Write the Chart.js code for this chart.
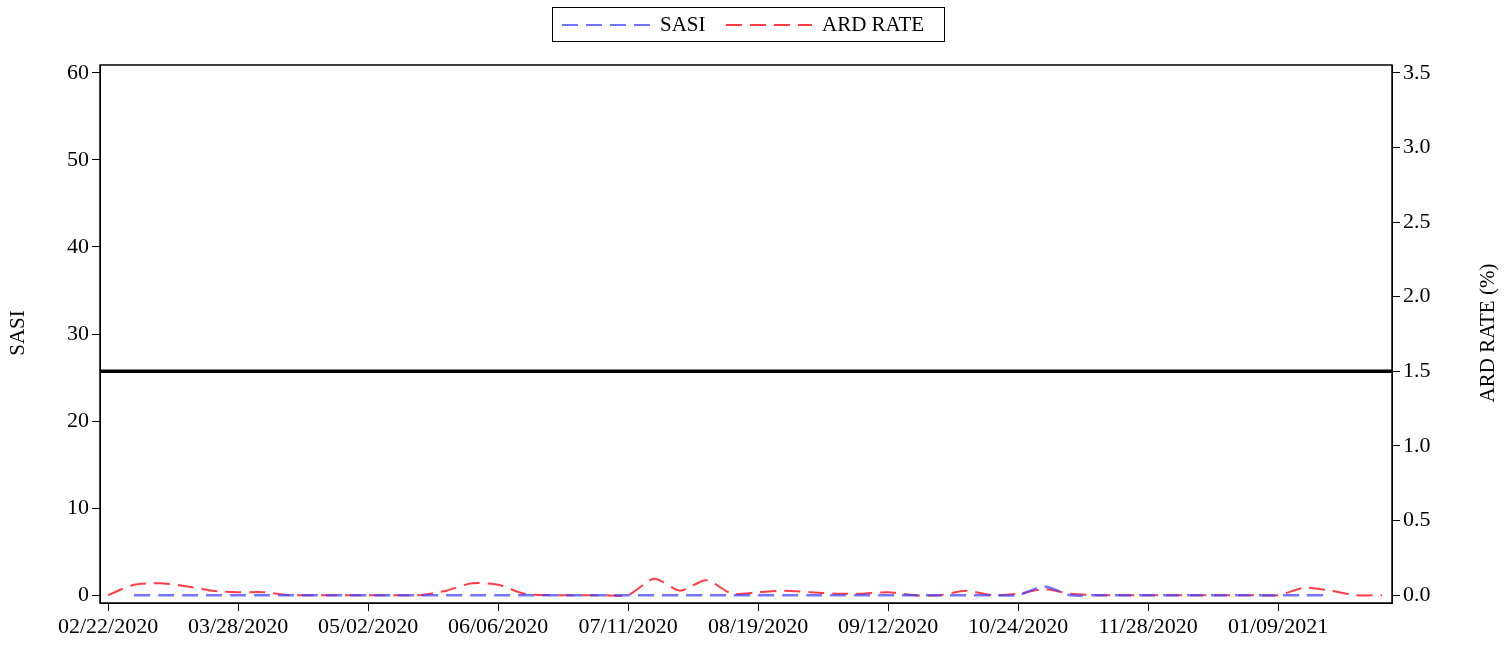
<!DOCTYPE html><html><head><meta charset="utf-8">
<script src="https://cdn.jsdelivr.net/npm/chart.js@4"></script>
<style>body{margin:0;background:#fff}</style></head><body>
<canvas id="c" width="1512" height="654"></canvas>
<script>
const dates = ["02/22/2020","02/29/2020","03/07/2020","03/14/2020","03/21/2020","03/28/2020","04/04/2020","04/11/2020","04/18/2020","04/25/2020","05/02/2020","05/09/2020","05/16/2020","05/23/2020","05/30/2020","06/06/2020","06/13/2020","06/20/2020","06/27/2020","07/04/2020","07/11/2020","07/18/2020","07/25/2020","08/01/2020","08/08/2020","08/19/2020","08/22/2020","08/29/2020","09/05/2020","09/08/2020","09/12/2020","09/19/2020","09/26/2020","10/03/2020","10/10/2020","10/24/2020","10/31/2020","11/07/2020","11/14/2020","11/21/2020","11/28/2020","12/05/2020","12/12/2020","12/19/2020","12/26/2020","01/09/2021","01/16/2021","01/23/2021","01/30/2021","02/06/2021"];
const tickEvery = 5;
const sasi = [null,0,0,0,0,0,0,0,0,0,0,0,0,0,0,0,0,0,0,0,0,0,0,0,0,0,0,0,0,0,0,0,0,0,0,0,1,0,0,0,0,0,0,0,0,0,0,0,null,null];
const ardRate = [0,0.07,0.08,0.06,0.03,0.02,0.02,0,0,0,0,0,0,0.03,0.08,0.07,0.01,0,0,0,0,0.11,0.03,0.1,0.01,0.02,0.03,0.02,0.01,0.01,0.02,0,0,0.03,0,0.01,0.04,0.01,0,0,0,0,0,0,0,0,0.05,0.03,0,0];
const sasiTicks = [0,10,20,30,40,50,60];
const ardTicks = [0,0.5,1.0,1.5,2.0,2.5,3.0,3.5];
const refLine = 1.5;
const serif = "'Liberation Serif','DejaVu Serif',serif";
const F = {family:serif,size:22};
const blue='rgba(70,70,255,0.75)', red='rgba(255,40,50,0.9)';
const framePlugin = {id:'frame', afterDatasetsDraw(ch){
  const {ctx, chartArea:a} = ch; const y = ch.scales.y2.getPixelForValue(refLine);
  ctx.save(); ctx.strokeStyle='#000'; ctx.lineWidth=3.5;
  ctx.beginPath(); ctx.moveTo(a.left,y); ctx.lineTo(a.right,y); ctx.stroke();
  ctx.lineWidth=1.5; ctx.strokeRect(a.left,a.top,a.right-a.left,a.bottom-a.top);
  ctx.lineWidth=1; ctx.strokeRect(552.5,7.5,392,34);
  ctx.font="21px "+serif; ctx.fillStyle='#000'; ctx.textBaseline='middle';
  ctx.setLineDash([16,8]); ctx.lineWidth=2;
  ctx.strokeStyle=blue; ctx.beginPath(); ctx.moveTo(562,25); ctx.lineTo(650,25); ctx.stroke();
  ctx.strokeStyle=red; ctx.beginPath(); ctx.moveTo(726,25); ctx.lineTo(812,25); ctx.stroke();
  ctx.setLineDash([]);
  ctx.fillText(ch.data.datasets[0].label,660,25); ctx.fillText(ch.data.datasets[1].label,822,25);
  ctx.textAlign='center';
  ctx.translate(18,333); ctx.rotate(-Math.PI/2); ctx.fillText('SASI',0,0); ctx.rotate(Math.PI/2); ctx.translate(-18,-333);
  ctx.translate(1488,333); ctx.rotate(-Math.PI/2); ctx.fillText('ARD RATE (%)',0,0);
  ctx.restore();
}};
new Chart(document.getElementById('c'), {
  type:'line',
  data:{datasets:[
    {label:'SASI', data:sasi.map((v,i)=>({x:i,y:v})), yAxisID:'y', borderColor:blue, borderDash:[16,8], borderWidth:2.5, pointRadius:0, tension:0.25},
    {label:'ARD RATE', data:ardRate.map((v,i)=>({x:i,y:v})), yAxisID:'y2', borderColor:red, borderDash:[16,8], borderWidth:2, pointRadius:0, tension:0.25}
  ]},
  options:{responsive:false, animation:false,
    layout:{padding:{left:44,right:0,top:65,bottom:0}},
    plugins:{legend:{display:false}, tooltip:{enabled:false}},
    scales:{
      x:{type:'linear', min:-0.31, max:49.38, grid:{drawOnChartArea:false, tickLength:8, color:'#000'}, border:{color:'#000'},
         afterBuildTicks:s=>{s.ticks=dates.map((d,i)=>({value:i})).filter(t=>t.value%tickEvery===0);},
         ticks:{autoSkip:false, maxRotation:0, color:'#000', font:F, callback:v=> dates[v]}, afterFit:s=>{s.height=51;}},
      y:{position:'left', min:-0.9, max:60.9,
         grid:{drawOnChartArea:false, tickLength:8, color:'#000'}, border:{color:'#000'},
         afterBuildTicks:s=>{s.ticks=sasiTicks.map(v=>({value:v}));},
         ticks:{color:'#000', font:F}, afterFit:s=>{s.width=56;}},
      y2:{position:'right', min:-0.0525, max:3.5525,
         grid:{drawOnChartArea:false, tickLength:8, color:'#000'}, border:{color:'#000'},
         afterBuildTicks:s=>{s.ticks=ardTicks.map(v=>({value:v}));},
         ticks:{color:'#000', font:F, callback:v=>Number(v).toFixed(1)}, afterFit:s=>{s.width=120;}}
    }
  },
  plugins:[framePlugin]
});
</script></body></html>
